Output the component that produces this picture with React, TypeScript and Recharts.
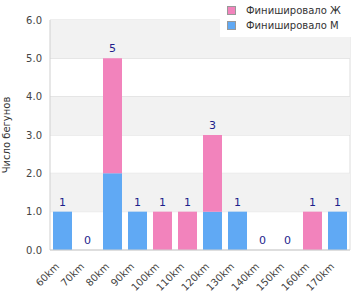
import React from "react";
import {
  ComposedChart,
  Bar,
  Line,
  XAxis,
  YAxis,
  CartesianGrid,
  ReferenceArea,
  LabelList,
  Legend,
} from "recharts";

const categories = ["60km", "70km", "80km", "90km", "100km", "110km", "120km", "130km", "140km", "150km", "160km", "170km"];
const finishedM = [1, 0, 2, 1, 0, 0, 1, 1, 0, 0, 0, 1];
const finishedF = [0, 0, 3, 0, 1, 1, 2, 0, 0, 0, 1, 0];
const yTicks = [0, 1, 2, 3, 4, 5, 6];

const seriesM = { key: "m", name: "Финишировало М", color: "#60a9f4" };
const seriesF = { key: "f", name: "Финишировало Ж", color: "#f283bc" };

const data = categories.map((name, i) => ({
  name,
  m: finishedM[i],
  f: finishedF[i],
  total: finishedM[i] + finishedF[i],
}));

// every other band between ticks is shaded
const bands = yTicks.slice(0, -1).filter((_, i) => i % 2 === 1);

const FONT = "'DejaVu Sans', Verdana, sans-serif";

const XTick = ({ x, y, payload }: any) => (
  <g transform={`translate(${x - 2.5},${y + 17})`}>
    <text x={0} y={0} textAnchor="end" transform="rotate(-45)" fontSize={10} fontFamily={FONT} fill="#444">
      {payload.value}
    </text>
  </g>
);

const renderLegend = () => (
  <div style={{ background: "#fff", width: 140, height: 37, paddingTop: 3, boxSizing: "border-box", fontFamily: FONT, fontSize: 10, color: "#333" }}>
    {[seriesF, seriesM].map((s) => (
      <div key={s.key} style={{ display: "flex", alignItems: "center", height: 15 }}>
        <span style={{ display: "inline-block", width: 7, height: 7, marginLeft: 7, marginRight: 10, background: s.color, border: "1px solid #999" }} />
        <span>{s.name}</span>
      </div>
    ))}
  </div>
);

export default function App() {
  return (
    <div style={{ position: "absolute", left: 0, top: 0, width: 360, height: 300, background: "#fff" }}>
      <ComposedChart width={360} height={300} data={data} margin={{ top: 20, right: 10, bottom: 0, left: 0 }}>
        {bands.map((b) => (
          <ReferenceArea key={b} y1={b} y2={b + 1} fill="#f2f2f2" fillOpacity={1} stroke="none" />
        ))}
        <CartesianGrid
          stroke="#dcdcdc"
          verticalCoordinatesGenerator={({ offset }: any) => [offset.left + offset.width]}
        />
        <XAxis
          dataKey="name"
          interval={0}
          tickLine={false}
          tickSize={0}
          tickMargin={0}
          height={50}
          stroke="#cfcfcf"
          tick={<XTick />}
        />
        <YAxis
          domain={[0, 6]}
          ticks={yTicks}
          width={50}
          tickLine={false}
          stroke="#cfcfcf"
          tickFormatter={(v: number) => v.toFixed(1)}
          tick={{ fontSize: 10, fontFamily: FONT, fill: "#444" }}
          label={{
            value: "Число бегунов",
            angle: -90,
            position: "insideLeft",
            offset: 6,
            style: { textAnchor: "middle", fontSize: 10, fontFamily: FONT, fill: "#333" },
          }}
        />
        <Bar dataKey={seriesM.key} name={seriesM.name} stackId="a" fill={seriesM.color} barSize={19} isAnimationActive={false} />
        <Bar dataKey={seriesF.key} name={seriesF.name} stackId="a" fill={seriesF.color} barSize={19} isAnimationActive={false} />
        {/* invisible line just to carry the total labels above each stack */}
        <Line
          dataKey="total"
          stroke="none"
          dot={false}
          activeDot={false}
          legendType="none"
          isAnimationActive={false}
        >
          <LabelList dataKey="total" position="top" offset={6} fill="#1e1e8c" fontSize={11} fontFamily={FONT} />
        </Line>
        <Legend
          layout="horizontal"
          verticalAlign="middle"
          content={renderLegend}
          wrapperStyle={{ left: 220, top: 0, width: 140, height: 37 }}
        />
      </ComposedChart>
    </div>
  );
}
